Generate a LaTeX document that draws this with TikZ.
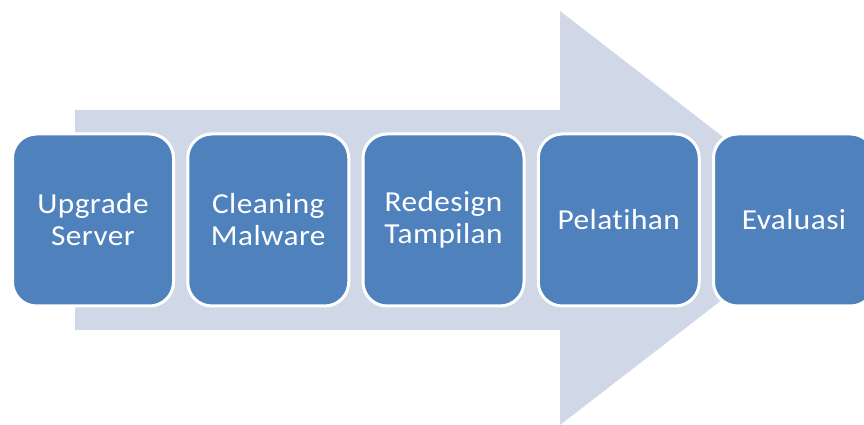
\documentclass[tikz,border=0pt]{standalone}
\usepackage{fontspec}
\setmainfont{Carlito}[Ligatures=NoCommon, FakeStretch=1.08, LetterSpace=1.5]
\usetikzlibrary{positioning}
\definecolor{stepblue}{HTML}{4F81BD}
\definecolor{arrowgrey}{HTML}{D0D8E8}

\begin{document}
\begin{tikzpicture}[
  x=1pt, y=1pt,
  node distance = 11.25pt,
  stepbox/.style = {rectangle, rounded corners=24pt, draw=white, line width=3pt, fill=stepblue,
                    minimum width=161pt, minimum height=172pt, inner sep=0pt, text=white, align=center,
                    font=\fontsize{29}{32}\selectfont},
  ]
  \useasboundingbox (0,0) rectangle (864,425);
  \clip (0,0) rectangle (864,425);
  % background arrow
  \fill[arrowgrey] (75,315) -- (560,315) -- (560,414) -- (828,207) -- (560,0) -- (560,95) -- (75,95) -- cycle;
  % steps
  \node[stepbox] (upgrade) at (93,205) {Upgrade\\Server};
  \node[stepbox, right=of upgrade] (cleaning) {Cleaning\\Malware};
  \node[stepbox, right=of cleaning] (redesign) {Redesign\\Tampilan};
  \node[stepbox, right=of redesign] (pelatihan) {Pelatihan};
  \node[stepbox, right=of pelatihan] (evaluasi) {Evaluasi};
\end{tikzpicture}
\end{document}
